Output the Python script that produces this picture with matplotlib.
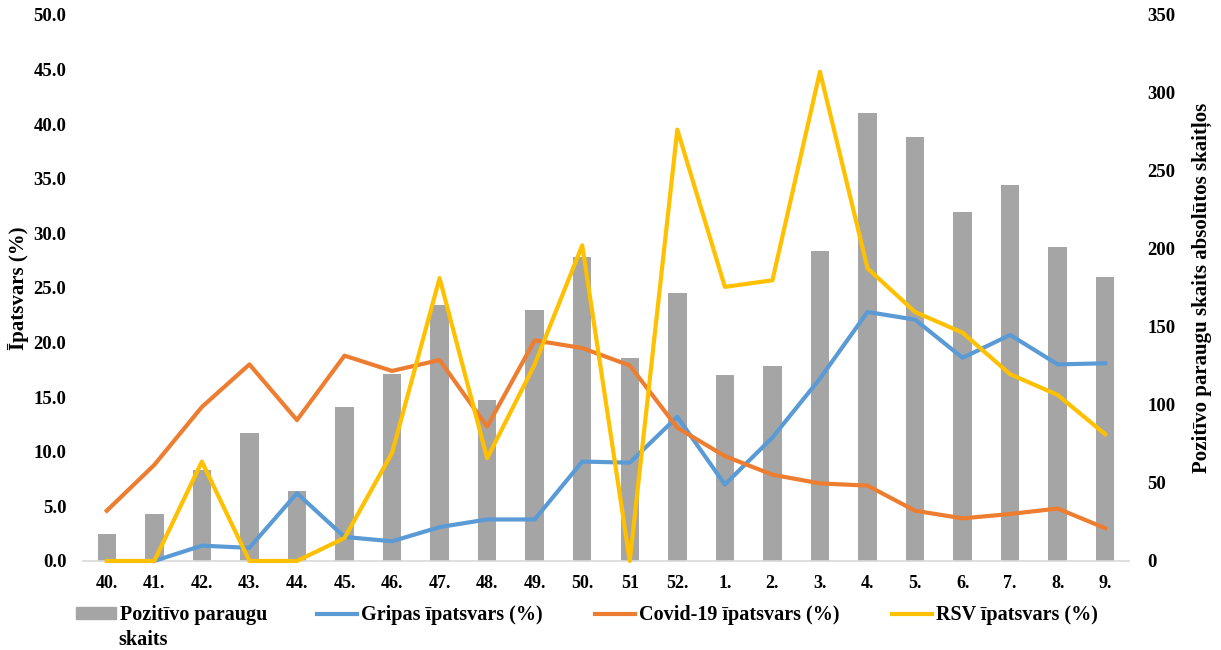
import numpy as np
import matplotlib.pyplot as plt
from matplotlib.patches import Patch
from matplotlib.lines import Line2D

plt.rcParams['font.family'] = ['Liberation Serif', 'DejaVu Serif']
plt.rcParams['font.weight'] = 'bold'

weeks = ['40.', '41.', '42.', '43.', '44.', '45.', '46.', '47.', '48.', '49.', '50.',
         '51', '52.', '1.', '2.', '3.', '4.', '5.', '6.', '7.', '8.', '9.']
positive_count = [17, 30, 58, 82, 45, 99, 120, 164, 103, 161, 195,
                  130, 172, 119, 125, 199, 287, 272, 224, 241, 201, 182]
flu_share = [np.nan, 0.0, 1.4, 1.2, 6.2, 2.2, 1.8, 3.1, 3.8, 3.8, 9.1,
             9.0, 13.2, 7.0, 11.3, 16.7, 22.8, 22.1, 18.6, 20.7, 18.0, 18.1]
covid_share = [4.6, 8.8, 14.1, 18.0, 12.9, 18.8, 17.4, 18.4, 12.3, 20.2, 19.5,
               17.9, 12.2, 9.6, 7.9, 7.1, 6.9, 4.6, 3.9, 4.3, 4.8, 3.0]
rsv_share = [0.0, 0.0, 9.1, 0.0, 0.0, 2.1, 9.9, 25.9, 9.4, 18.0, 28.9,
             0.0, 39.5, 25.1, 25.7, 44.8, 26.8, 22.8, 20.9, 17.1, 15.2, 11.6]

c_bar = '#A5A5A5'
c_flu = '#5B9BD5'
c_covid = '#ED7D31'
c_rsv = '#FFC000'
lw = 3

x = np.arange(len(weeks))

fig = plt.figure(figsize=(12.21, 6.5), dpi=100)
ax = fig.add_axes([83 / 1221, 0.137, 1046 / 1221, 0.84])
ax2 = ax.twinx()

# bars on the right axis, lines on the left axis drawn above them
ax2.bar(x, positive_count, width=0.39, color=c_bar)
ax.set_zorder(ax2.get_zorder() + 1)
ax.patch.set_visible(False)

ax.plot(x, flu_share, color=c_flu, lw=lw, clip_on=False, zorder=3)
ax.plot(x, covid_share, color=c_covid, lw=lw, clip_on=False, zorder=3)
ax.plot(x, rsv_share, color=c_rsv, lw=lw, clip_on=False, zorder=3)

ax.set_xlim(-0.5, len(weeks) - 0.5)
ax.set_ylim(0, 50)
ax2.set_ylim(0, 350)
ax.set_yticks(np.arange(0, 51, 5))
ax.set_yticklabels([f'{v:.1f}' for v in np.arange(0, 51, 5)])
ax2.set_yticks(np.arange(0, 351, 50))
ax.set_xticks(x)
ax.set_xticklabels(weeks)

for a in (ax, ax2):
    for s in ('top', 'left', 'right'):
        a.spines[s].set_visible(False)
    a.spines['bottom'].set_color('#D9D9D9')
    a.spines['bottom'].set_linewidth(1.2)
    a.tick_params(length=0, labelsize=13.5)
ax2.spines['bottom'].set_visible(False)
ax.spines['bottom'].set_zorder(1)
ax.tick_params(axis='x', labelsize=13, pad=10)
ax.tick_params(axis='y', pad=12)
ax2.tick_params(axis='y', pad=13)

ax.set_ylabel('Īpatsvars (%)', fontsize=15, fontweight='bold', labelpad=3)
ax2.set_ylabel('Pozitīvo paraugu skaits absolūtos skaitļos', fontsize=15,
               fontweight='bold', labelpad=12)

# legend entries placed one by one, like the reference
entries = [(Patch(color=c_bar), 'Pozitīvo paraugu', 76),
           (Line2D([], [], color=c_flu, lw=lw), 'Gripas īpatsvars (%)', 317),
           (Line2D([], [], color=c_covid, lw=lw), 'Covid-19 īpatsvars (%)', 595),
           (Line2D([], [], color=c_rsv, lw=lw), 'RSV īpatsvars (%)', 892)]
for handle, label, px in entries:
    fig.legend([handle], [label], loc='center left',
               bbox_to_anchor=(px / 1221, 1 - 615 / 650), frameon=False,
               fontsize=14.5, handlelength=2.0, handleheight=0.5,
               handletextpad=0.2, borderpad=0, borderaxespad=0)
fig.text(118 / 1221, 1 - 640 / 650, 'skaits', fontsize=14.5,
         fontweight='bold', va='center', ha='left')

fig.savefig('out.png', dpi=100)
